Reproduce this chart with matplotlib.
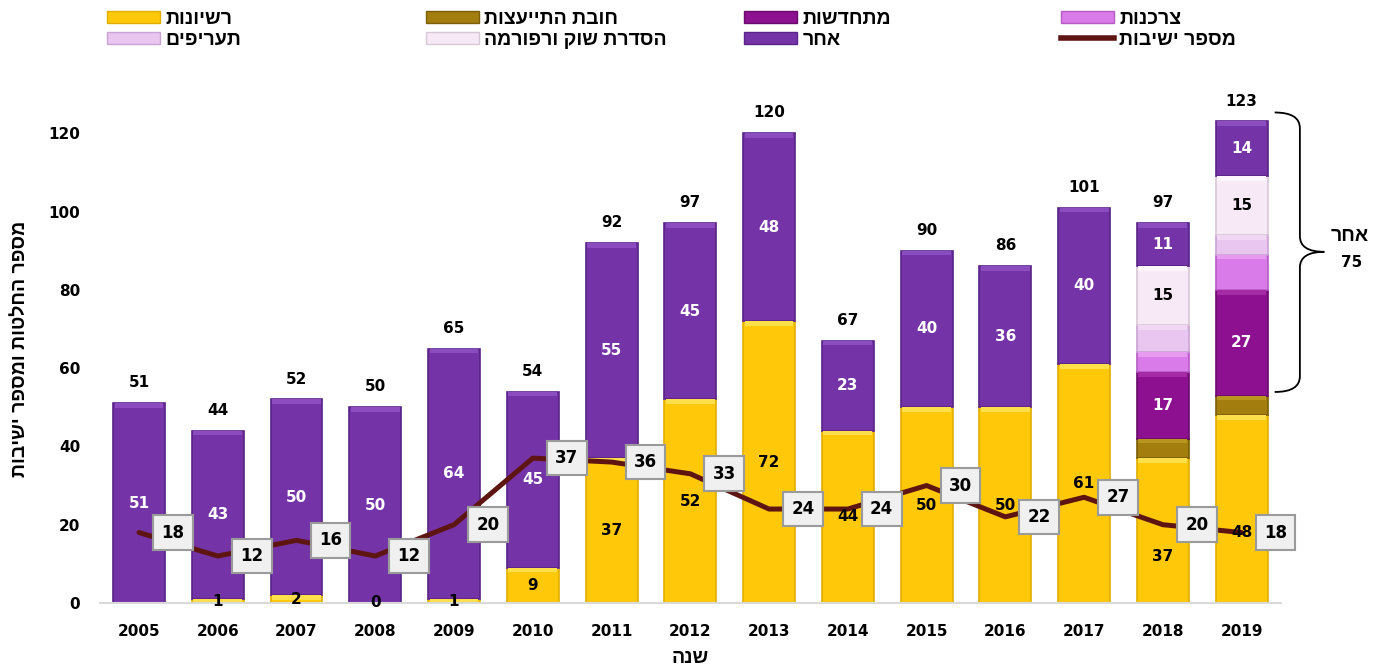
import numpy as np
import matplotlib.pyplot as plt
from matplotlib.patches import Patch, PathPatch
from matplotlib.lines import Line2D
from matplotlib.path import Path

plt.rcParams['font.family'] = ['DejaVu Sans']
plt.rcParams['font.weight'] = 'bold'
HEB = ['Liberation Sans', 'DejaVu Sans']


def heb(s):
    # matplotlib has no bidi support, so Hebrew is written reversed
    return s[::-1]


years = ['2005', '2006', '2007', '2008', '2009', '2010', '2011', '2012',
         '2013', '2014', '2015', '2016', '2017', '2018', '2019']
licenses = [0, 1, 2, 0, 1, 9, 37, 52, 72, 44, 50, 50, 61, 37, 48]
consult = [0, 0, 0, 0, 0, 0, 0, 0, 0, 0, 0, 0, 0, 5, 5]
renewables = [0, 0, 0, 0, 0, 0, 0, 0, 0, 0, 0, 0, 0, 17, 27]
consumers = [0, 0, 0, 0, 0, 0, 0, 0, 0, 0, 0, 0, 0, 5, 9]
tariffs = [0, 0, 0, 0, 0, 0, 0, 0, 0, 0, 0, 0, 0, 7, 5]
market = [0, 0, 0, 0, 0, 0, 0, 0, 0, 0, 0, 0, 0, 15, 15]
other = [51, 43, 50, 50, 64, 45, 55, 45, 48, 23, 40, 36, 40, 11, 14]
meetings = [18, 12, 16, 12, 20, 37, 36, 33, 24, 24, 30, 22, 27, 20, 18]

names = ['רשיונות', 'חובת התייעצות', 'מתחדשות', 'צרכנות',
         'תעריפים', 'הסדרת שוק ורפורמה', 'אחר']
line_name = 'מספר ישיבות'
other_total = 75

colors = ['#FFC90A', '#A37E0E', '#8C108F', '#D97BE8',
          '#E8C6F0', '#F8E9F6', '#7533A8']
edges = ['#E0AE00', '#7A5E08', '#6A0A6C', '#B45CC4',
         '#C9A3D3', '#D8C8D6', '#5A2488']
tops = ['#FFE04A', '#B8951E', '#A42AA6', '#E69AF0',
        '#F0D8F5', '#FDF6FC', '#8A4CBF']
text_cols = ['black', 'black', 'white', 'black', 'black', 'black', 'white']
line_col = '#5E1512'

series = [licenses, consult, renewables, consumers, tariffs, market, other]
# which series get their values written inside the bar
show_lbl = [True, False, True, False, False, True, True]
# a couple of labels sit lower than the middle of their segment
lbl_shift = {(0, 13): -6.5, (0, 14): -6.0}

fig = plt.figure(figsize=(13.74, 6.72), dpi=100)
ax = fig.add_axes([0.0725, 0.1027, 0.8598, 0.7573])

x = np.arange(len(years))
w = 0.66
bottom = np.zeros(len(years))
for k, vals in enumerate(series):
    vals = np.array(vals, dtype=float)
    ax.bar(x, vals, w, bottom=bottom, color=colors[k], edgecolor=edges[k],
           linewidth=1.2, zorder=2)
    # light band at the top of each segment for a bevelled look
    band = np.minimum(vals, 1.2)
    ax.bar(x, band, w - 0.04, bottom=bottom + vals - band, color=tops[k],
           linewidth=0, zorder=2.5)
    if show_lbl[k]:
        for i, v in enumerate(vals):
            if k == 0 and i == 0:
                continue
            if v == 0 and k != 0:
                continue
            ypos = bottom[i] + v / 2 + lbl_shift.get((k, i), 0)
            ax.text(x[i], ypos, str(int(v)), ha='center',
                    va='center', fontsize=11, fontweight='bold',
                    color=text_cols[k], zorder=5)
    bottom = bottom + vals

totals = bottom
for i, t in enumerate(totals):
    ax.text(x[i], t + 5.2, str(int(t)), ha='center', va='center',
            fontsize=11, fontweight='bold', color='black')

ax.plot(x, meetings, color=line_col, lw=3.6, zorder=4,
        solid_capstyle='round', solid_joinstyle='round')
for i, m in enumerate(meetings):
    ax.text(x[i] + 0.43, m, str(m), ha='center', va='center', fontsize=12,
            fontweight='bold', color='black', zorder=6,
            bbox=dict(boxstyle='square,pad=0.5', facecolor='#F0F0F0',
                      edgecolor='#9A9A9A', linewidth=1.5))

# curly brace next to the 2019 bar
x0, x1, x2 = 14.42, 14.74, 15.05
ytop, ymid, ybot, d = 125.3, 89.7, 53.9, 4.0
verts = [(x0, ytop), (x1, ytop), (x1, ytop - d), (x1, ymid + d),
         (x1, ymid), (x2, ymid), (x1, ymid), (x1, ymid - d),
         (x1, ybot + d), (x1, ybot), (x0, ybot)]
codes = [Path.MOVETO, Path.CURVE3, Path.CURVE3, Path.LINETO,
         Path.CURVE3, Path.CURVE3, Path.CURVE3, Path.CURVE3,
         Path.LINETO, Path.CURVE3, Path.CURVE3]
ax.add_patch(PathPatch(Path(verts, codes), facecolor='none',
                       edgecolor='black', lw=1.3, clip_on=False))
ax.text(15.37, 93.6, heb('אחר'), ha='center', va='center', fontsize=14,
        fontweight='bold', family=HEB, clip_on=False)
ax.text(15.4, 87.0, str(other_total), ha='center', va='center',
        fontsize=11, fontweight='bold', clip_on=False)

ax.set_xlim(-0.5, len(years) - 0.5)
ax.set_ylim(0, 130)
ax.set_yticks(np.arange(0, 121, 20))
ax.set_xticks(x)
ax.set_xticklabels(years)
ax.tick_params(axis='both', length=0, labelsize=11)
ax.tick_params(axis='y', pad=14)
ax.tick_params(axis='x', pad=15)
for lbl in ax.get_xticklabels() + ax.get_yticklabels():
    lbl.set_fontweight('bold')
for s in ['top', 'right', 'left']:
    ax.spines[s].set_visible(False)
ax.spines['bottom'].set_color('#D9D9D9')
ax.spines['bottom'].set_linewidth(1.5)

ax.set_ylabel(heb('מספר החלטות ומספר ישיבות'), fontsize=14,
              fontweight='bold', family=HEB, labelpad=14)
ax.set_xlabel(heb('שנה'), fontsize=14, fontweight='bold', family=HEB,
              labelpad=8)

# legend: four columns of two entries each
handles = [Patch(facecolor=c, edgecolor=e) for c, e in zip(colors, edges)]
handles.append(Line2D([0], [0], color=line_col, lw=4))
labels = [heb(n) for n in names] + [heb(line_name)]
col_x = [107, 426, 744, 1061]
for c in range(4):
    idx = [c, c + 4]
    fig.legend([handles[i] for i in idx], [labels[i] for i in idx],
               loc='upper left', bbox_to_anchor=(col_x[c] / 1374, 0.984),
               frameon=False, handlelength=2.7, handleheight=0.55,
               handletextpad=0.3, labelspacing=0.2, borderpad=0,
               borderaxespad=0,
               prop={'weight': 'bold', 'size': 14, 'family': HEB})

fig.savefig('out.png', dpi=100)
